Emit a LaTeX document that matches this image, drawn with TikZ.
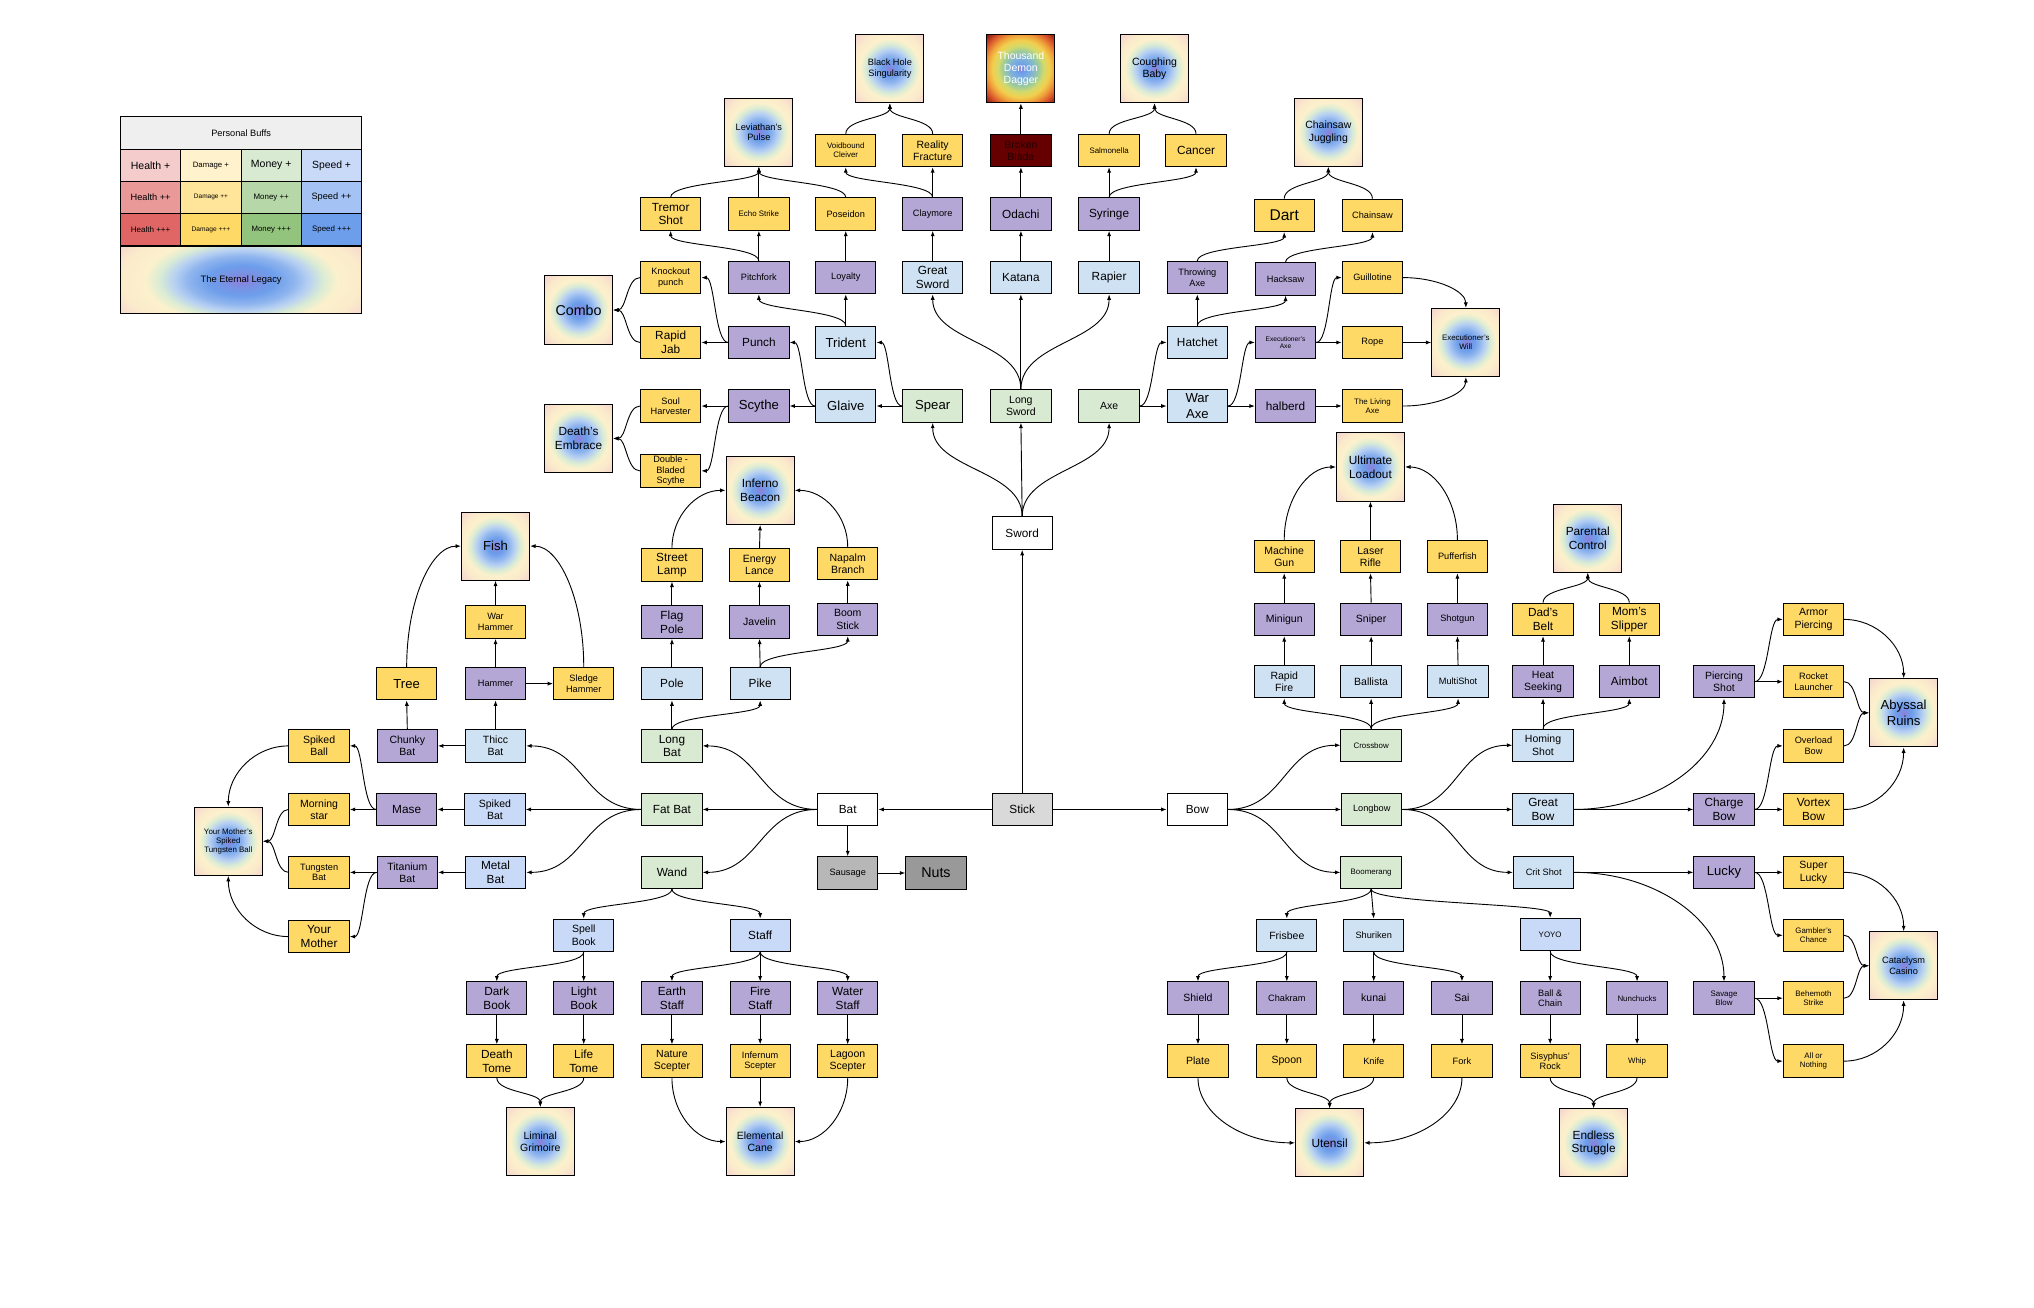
\documentclass[tikz,border=0pt]{standalone}
\usepackage{fontspec}
\setmainfont{Liberation Sans}
\usetikzlibrary{arrows.meta,calc}
\newdimen\ufs \ufs=1.4226pt
\newdimen\ubs \ubs=1.64pt
\newcommand\fz[1]{\fontsize{#1\ufs}{#1\ubs}\selectfont}
\definecolor{cy}{HTML}{FFD966}
\definecolor{cp}{HTML}{B4A7D6}
\definecolor{cb}{HTML}{CFE2F3}
\definecolor{cbb}{HTML}{C9DAF8}
\definecolor{cg}{HTML}{D9EAD3}
\definecolor{gra}{HTML}{D9D9D9}
\definecolor{grb}{HTML}{B7B7B7}
\definecolor{grc}{HTML}{999999}
\definecolor{dred}{HTML}{660000}
\definecolor{dtext}{HTML}{220000}
\definecolor{hA}{HTML}{F4CCCC}\definecolor{hB}{HTML}{EA9999}\definecolor{hC}{HTML}{E06666}
\definecolor{dA}{HTML}{FFF2CC}\definecolor{dB}{HTML}{FFE599}\definecolor{dC}{HTML}{FFD966}
\definecolor{mA}{HTML}{D9EAD3}\definecolor{mB}{HTML}{B6D7A8}\definecolor{mC}{HTML}{93C47D}
\definecolor{sA}{HTML}{C9DAF8}\definecolor{sB}{HTML}{A4C2F4}\definecolor{sC}{HTML}{6D9EEB}
\definecolor{hdr}{HTML}{EFEFEF}
\definecolor{sPur}{HTML}{8F7FD8}
\definecolor{sPB}{HTML}{7B8FE2}
\definecolor{sBlue}{HTML}{6D9EEB}
\definecolor{sBlue2}{HTML}{8FB5EE}
\definecolor{sLB}{HTML}{B8D1F2}
\definecolor{sGrn}{HTML}{DAECD4}
\definecolor{sYel}{HTML}{FCF1CC}
\definecolor{sYel2}{HTML}{FBEBCB}
\definecolor{sPink}{HTML}{F5D5CF}
\definecolor{tA}{HTML}{7FB3D8}
\definecolor{tB}{HTML}{9CCB9A}
\definecolor{tC}{HTML}{D4DA6A}
\definecolor{tD}{HTML}{F2CF4E}
\definecolor{tE}{HTML}{EF9F3A}
\definecolor{tF}{HTML}{D6522A}
\definecolor{tG}{HTML}{8A1A12}
\pgfdeclareradialshading{finsh}{\pgfpoint{0bp}{0bp}}{color(0bp)=(sPur);color(2.5bp)=(sPB);color(6bp)=(sBlue);color(10bp)=(sBlue2);color(14bp)=(sLB);color(18bp)=(sGrn);color(22bp)=(sYel);color(27bp)=(sYel2);color(35bp)=(sPink);color(50bp)=(sPink)}
\pgfdeclareradialshading{legsh}{\pgfpoint{0bp}{0bp}}{color(0bp)=(sPur);color(3bp)=(sPB);color(7bp)=(sBlue);color(11bp)=(sBlue2);color(14bp)=(sLB);color(17bp)=(sGrn);color(20bp)=(sYel);color(25bp)=(sYel2);color(30bp)=(sPink);color(50bp)=(sPink)}
\pgfdeclareradialshading{tddsh}{\pgfpoint{0bp}{0bp}}{color(0bp)=(sPur);color(3bp)=(sBlue);color(8bp)=(tA);color(13bp)=(tB);color(17bp)=(tC);color(21bp)=(tD);color(25bp)=(tE);color(30bp)=(tF);color(35bp)=(tG);color(50bp)=(tG)}
\tikzset{
 bx/.style={draw=black, line width=1.1pt, minimum width=2.325cm, minimum height=1.25cm, inner sep=0pt, align=center, text=black},
 yb/.style={bx, fill=cy},
 pb/.style={bx, fill=cp},
 bb/.style={bx, fill=cb},
 bbb/.style={bx, fill=cbb},
 gb/.style={bx, fill=cg},
 wb/.style={bx, fill=white},
 fin/.style={draw=black, line width=1.1pt, minimum width=2.625cm, minimum height=2.625cm, inner sep=0pt, align=center, shading=finsh},
 lg/.style={draw=black, line width=1.2pt, minimum width=2.325cm, minimum height=1.235cm, inner sep=0pt, align=center},
 f5/.style={font=\fz{5.1}}, f6/.style={font=\fz{6.1}}, f7/.style={font=\fz{7.1}},
 f8/.style={font=\fz{8.1}}, f9/.style={font=\fz{9.1}}, f10/.style={font=\fz{10.1}},
 f11/.style={font=\fz{11}}, f12/.style={font=\fz{12}},
 arw/.style={line width=1pt, -{Latex[length=6pt,width=4.5pt]}},
 vc/.style={to path={.. controls ($(\tikztostart)!0.5!(\tikztostart|-\tikztotarget)$) and ($(\tikztotarget)!0.5!(\tikztotarget|-\tikztostart)$) .. (\tikztotarget)}},
 hc/.style={to path={.. controls ($(\tikztostart)!0.5!(\tikztotarget|-\tikztostart)$) and ($(\tikztotarget)!0.5!(\tikztostart|-\tikztotarget)$) .. (\tikztotarget)}},
 cvh/.style={to path={.. controls ($(\tikztostart)!0.55!(\tikztostart|-\tikztotarget)$) and ($(\tikztotarget)!0.55!(\tikztostart|-\tikztotarget)$) .. (\tikztotarget)}},
 chv/.style={to path={.. controls ($(\tikztostart)!0.55!(\tikztotarget|-\tikztostart)$) and ($(\tikztotarget)!0.55!(\tikztotarget|-\tikztostart)$) .. (\tikztotarget)}},
}
\begin{document}
\begin{tikzpicture}[x=0.05cm, y=-0.05cm]
\fill[white] (0,0) rectangle (1568,1008);
\path[use as bounding box] (0,0) rectangle (1568,1008);
% ---------- legend
\node[lg, fill=hdr, minimum width=9.3cm, minimum height=1.27cm, font=\fz{7.1}] (lhead) at (185.9,102.4) {Personal Buffs};
\node[lg, fill=hA, font=\fz{8.1}] (lhA) at (116.1,127.45) {Health +};
\node[lg, fill=dA, font=\fz{6.0}] (ldA) at (162.6,127.45) {Damage +};
\node[lg, fill=mA, font=\fz{8.1}] (lmA) at (209.1,127.45) {Money +};
\node[lg, fill=sA, font=\fz{8.0}] (lsA) at (255.6,127.45) {Speed +};
\node[lg, fill=hB, font=\fz{7.1}] (lhB) at (116.1,152.15) {Health ++};
\node[lg, fill=dB, font=\fz{5.0}] (ldB) at (162.6,152.15) {Damage ++};
\node[lg, fill=mB, font=\fz{6.1}] (lmB) at (209.1,152.15) {Money ++};
\node[lg, fill=sB, font=\fz{7.1}] (lsB) at (255.6,152.15) {Speed ++};
\node[lg, fill=hC, font=\fz{6.2}] (lhC) at (116.1,177.2) {Health +++};
\node[lg, fill=dC, font=\fz{5.1}] (ldC) at (162.6,177.2) {Damage +++};
\node[lg, fill=mC, font=\fz{6.0}] (lmC) at (209.1,177.2) {Money +++};
\node[lg, fill=sC, font=\fz{6.1}] (lsC) at (255.6,177.2) {Speed +++};
\begin{scope}
\clip (92.9,189.95) rectangle (278.9,241.95);
\shade[shading=legsh] (92.9,173.95) rectangle (278.9,257.95);
\end{scope}
\node[lg, minimum width=9.3cm, minimum height=2.6cm, font=\fz{7.2}] (legacy) at (185.9,215.95) {The Eternal Legacy};
% ---------- top / sword region
\node[fin, f7] (lev) at (585,102) {Leviathan's\\Pulse};
\node[fin, f7] (bhs) at (686,53) {Black Hole\\Singularity};
\node[fin, shading=tddsh, text=white, f8] (tdd) at (787,53) {Thousand\\Demon\\Dagger};
\node[fin, f8] (cbaby) at (890,53) {Coughing\\Baby};
\node[fin, f8] (cjug) at (1024,102) {Chainsaw\\Juggling};
\node[yb, f6] (void) at (652,116) {Voidbound\\Cleiver};
\node[yb, f8] (real) at (719,116) {Reality\\Fracture};
\node[bx, fill=dred, text=dtext, f8] (broken) at (787,116) {Broken\\Blade};
\node[yb, f6] (salm) at (855,116) {Salmonella};
\node[yb, f9] (cancer) at (922,116) {Cancer};
\node[yb, f9] (tremor) at (517,165) {Tremor\\Shot};
\node[yb, f6] (echo) at (585,165) {Echo Strike};
\node[yb, f7] (pos) at (652,165) {Poseidon};
\node[pb, f7] (clay) at (719,165) {Claymore};
\node[pb, f9] (odachi) at (787,165) {Odachi};
\node[pb, f9] (syringe) at (855,165) {Syringe};
\node[yb, f12] (dart) at (990,166) {Dart};
\node[yb, f7] (chainsaw) at (1058,166) {Chainsaw};
\node[yb, f7] (knock) at (517,214) {Knockout\\punch};
\node[pb, f7] (pitch) at (585,214) {Pitchfork};
\node[pb, f7] (loyal) at (652,214) {Loyalty};
\node[bb, f9] (gsword) at (719,214) {Great\\Sword};
\node[bb, f9] (katana) at (787,214) {Katana};
\node[bb, f9] (rapier) at (855,214) {Rapier};
\node[pb, f7] (throw) at (923,214) {Throwing\\Axe};
\node[pb, f7] (hack) at (991,215) {Hacksaw};
\node[yb, f7] (guill) at (1058,214) {Guillotine};
\node[fin, f11] (combo) at (446,239) {Combo};
\node[yb, f9] (rjab) at (517,264) {Rapid\\Jab};
\node[pb, f9] (punch) at (585,264) {Punch};
\node[bb, f10] (trident) at (652,264) {Trident};
\node[bb, f9] (hatchet) at (923,264) {Hatchet};
\node[pb, f5] (exaxe) at (991,264) {Executioner's\\Axe};
\node[yb, f7] (rope) at (1058,264) {Rope};
\node[fin, f6] (exwill) at (1130,264) {Executioner's\\Will};
\node[yb, f7] (soul) at (517,313) {Soul\\Harvester};
\node[pb, f10] (scythe) at (585,313) {Scythe};
\node[bb, f10] (glaive) at (652,313) {Glaive};
\node[gb, f10] (spear) at (719,313) {Spear};
\node[gb, f8] (lsword) at (787,313) {Long\\Sword};
\node[gb, f8] (axe) at (855,313) {Axe};
\node[bb, f10] (waraxe) at (923,313) {War\\Axe};
\node[pb, f9] (halberd) at (991,313) {halberd};
\node[yb, f6] (livaxe) at (1058,313) {The Living\\Axe};
\node[fin, f9] (death) at (446,338) {Death's\\Embrace};
\node[yb, f7] (dbl) at (517,363) {Double -\\Bladed\\Scythe};
\node[wb, f9] (sword) at (788,411) {Sword};
% ---------- bat region
\node[fin, f9] (inferno) at (586,378) {Inferno\\Beacon};
\node[fin, f10] (fish) at (382,421) {Fish};
\node[yb, f9] (slamp) at (518,435.5) {Street\\Lamp};
\node[yb, f8] (elance) at (585.5,435.5) {Energy\\Lance};
\node[yb, f8] (napalm) at (653.5,434.5) {Napalm\\Branch};
\node[yb, f7] (warham) at (382,479.5) {War\\Hammer};
\node[pb, f9] (flag) at (518,479.5) {Flag\\Pole};
\node[pb, f8] (javelin) at (585.5,479.5) {Javelin};
\node[pb, f8] (boom) at (653.5,477.5) {Boom\\Stick};
\node[yb, f10] (tree) at (313.5,527) {Tree};
\node[pb, f7] (hammer) at (382,527) {Hammer};
\node[yb, f7] (sledge) at (450,527) {Sledge\\Hammer};
\node[bb, f9] (pole) at (518,527) {Pole};
\node[bb, f9] (pike) at (586,527) {Pike};
\node[yb, f8] (sball) at (246,575) {Spiked\\Ball};
\node[pb, f8] (chunky) at (314,575) {Chunky\\Bat};
\node[bb, f8] (thicc) at (382,575) {Thicc\\Bat};
\node[gb, f9] (longbat) at (518,575) {Long\\Bat};
\node[yb, f8] (mstar) at (246,624) {Morning\\star};
\node[pb, f9] (mase) at (313.5,624) {Mase};
\node[bbb, f8] (sbat) at (381.5,624) {Spiked\\Bat};
\node[gb, f9] (fatbat) at (518,624) {Fat Bat};
\node[wb, f9] (bat) at (653.5,624) {Bat};
\node[bx, fill=gra, f9] (stick) at (788,624) {Stick};
\node[fin, f6] (ymstb) at (176,648.5) {Your Mother's\\Spiked\\Tungsten Ball};
\node[yb, f7] (tbat) at (246,672.5) {Tungsten\\Bat};
\node[pb, f8] (titan) at (314,672.5) {Titanium\\Bat};
\node[bbb, f9] (metal) at (382,672.5) {Metal\\Bat};
\node[gb, f9] (wand) at (518,672.5) {Wand};
\node[bx, fill=grb, f7] (sausage) at (653.5,673) {Sausage};
\node[bx, fill=grc, f11] (nuts) at (721.5,673) {Nuts};
\node[yb, f9] (ymother) at (246,722) {Your\\Mother};
\node[bbb, f8] (spell) at (450,721) {Spell\\Book};
\node[bbb, f9] (staff) at (586,721) {Staff};
\node[pb, f9] (dark) at (383,769.5) {Dark\\Book};
\node[pb, f9] (light) at (450,769.5) {Light\\Book};
\node[pb, f9] (earth) at (518,769.5) {Earth\\Staff};
\node[pb, f9] (fire) at (586,769.5) {Fire\\Staff};
\node[pb, f9] (water) at (653.5,769.5) {Water\\Staff};
\node[yb, f9] (dtome) at (383,818) {Death\\Tome};
\node[yb, f9] (ltome) at (450,818) {Life\\Tome};
\node[yb, f8] (nature) at (518,818) {Nature\\Scepter};
\node[yb, f7] (infern) at (586,818) {Infernum\\Scepter};
\node[yb, f8] (lagoon) at (653.5,818) {Lagoon\\Scepter};
\node[fin, f8] (liminal) at (416.5,880) {Liminal\\Grimoire};
\node[fin, f8] (ecane) at (586,880) {Elemental\\Cane};
% ---------- bow region
\node[fin, f9] (ultimate) at (1056.5,360) {Ultimate\\Loadout};
\node[fin, f9] (pcontrol) at (1224,415) {Parental\\Control};
\node[yb, f8] (mgun) at (990,429) {Machine\\Gun};
\node[yb, f8] (laser) at (1056.5,429) {Laser\\Rifle};
\node[yb, f7] (puffer) at (1123.5,429) {Pufferfish};
\node[pb, f8] (minigun) at (990,477.5) {Minigun};
\node[pb, f8] (sniper) at (1057,477.5) {Sniper};
\node[pb, f7] (shotgun) at (1123.5,477.5) {Shotgun};
\node[yb, f9] (dads) at (1189.5,477.5) {Dad's\\Belt};
\node[yb, f9] (moms) at (1256,477.5) {Mom's\\Slipper};
\node[yb, f8] (armor) at (1398,477.5) {Armor\\Piercing};
\node[bb, f8] (rfire) at (990,525.5) {Rapid\\Fire};
\node[bb, f8] (ballista) at (1057,525.5) {Ballista};
\node[bb, f7] (multi) at (1124,525.5) {MultiShot};
\node[pb, f8] (heat) at (1189.5,525.5) {Heat\\Seeking};
\node[pb, f9] (aimbot) at (1256,525.5) {Aimbot};
\node[pb, f8] (pierce) at (1329,525.5) {Piercing\\Shot};
\node[yb, f7] (rocket) at (1398,525.5) {Rocket\\Launcher};
\node[fin, f10] (abyss) at (1467.5,549.5) {Abyssal\\Ruins};
\node[gb, f6] (crossbow) at (1057,574.5) {Crossbow};
\node[bb, f8] (homing) at (1189.5,574.5) {Homing\\Shot};
\node[yb, f7] (overload) at (1398,575) {Overload\\Bow};
\node[wb, f9] (bow) at (923,624) {Bow};
\node[gb, f7] (longbow) at (1057.5,624) {Longbow};
\node[bb, f9] (gbow) at (1189.5,624) {Great\\Bow};
\node[pb, f9] (charge) at (1329,624) {Charge\\Bow};
\node[yb, f9] (vortex) at (1398,624) {Vortex\\Bow};
\node[gb, f6] (boomer) at (1057,672.5) {Boomerang};
\node[bb, f7] (crit) at (1190,672.5) {Crit Shot};
\node[pb, f10] (lucky) at (1329,672.5) {Lucky};
\node[yb, f8] (slucky) at (1398,672.5) {Super\\Lucky};
\node[bb, f8] (frisbee) at (992,721) {Frisbee};
\node[bb, f7] (shuriken) at (1059,721) {Shuriken};
\node[bbb, f6] (yoyo) at (1195,720.5) {YOYO};
\node[yb, f6] (gambler) at (1398,721) {Gambler's\\Chance};
\node[fin, f7] (casino) at (1467.5,744.5) {Cataclysm\\Casino};
\node[pb, f8] (shield) at (923.5,769.5) {Shield};
\node[pb, f7] (chakram) at (992,769.5) {Chakram};
\node[pb, f8] (kunai) at (1059,769.5) {kunai};
\node[pb, f8] (sai) at (1127,769.5) {Sai};
\node[pb, f7] (ballc) at (1195,769.5) {Ball \&\\Chain};
\node[pb, f6] (nunch) at (1262,769.5) {Nunchucks};
\node[pb, f6] (savage) at (1329,769.5) {Savage\\Blow};
\node[yb, f6] (behem) at (1398,769.5) {Behemoth\\Strike};
\node[yb, f8] (plate) at (923.5,818) {Plate};
\node[yb, f8] (spoon) at (992,818) {Spoon};
\node[yb, f7] (knife) at (1059,818) {Knife};
\node[yb, f7] (fork) at (1127,818) {Fork};
\node[yb, f7] (sisy) at (1195,818) {Sisyphus'\\Rock};
\node[yb, f6] (whip) at (1262,818) {Whip};
\node[yb, f6] (allnot) at (1398,818) {All or\\Nothing};
\node[fin, f9] (utensil) at (1025,881) {Utensil};
\node[fin, f9] (endless) at (1228.5,881) {Endless\\Struggle};
% ---------- connectors: center
\draw[arw] (stick.north) -- (sword.south);
\draw[arw] (stick.west) -- (bat.east);
\draw[arw] (stick.east) -- (bow.west);
\draw[arw] (bat.south) -- (sausage.north);
\draw[arw] (sausage.east) -- (nuts.west);
% sword
\draw[arw] (sword.north) to[vc] (spear.south);
\draw[arw] (sword.north) -- (lsword.south);
\draw[arw] (sword.north) to[vc] (axe.south);
\draw[arw] (spear.west) -- (glaive.east);
\draw[arw] (spear.west) to[hc] (trident.east);
\draw[arw] (glaive.west) -- (scythe.east);
\draw[arw] (glaive.west) to[hc] (punch.east);
\draw[arw] (trident.north) -- (loyal.south);
\draw[arw] (trident.north) to[vc] (pitch.south);
\draw[arw] (loyal.north) -- (pos.south);
\draw[arw] (pitch.north) -- (echo.south);
\draw[arw] (pitch.north) to[vc] (tremor.south);
\draw[arw] (tremor.north) to[vc] (lev.south);
\draw[arw] (echo.north) -- (lev.south);
\draw[arw] (pos.north) to[vc] (lev.south);
\draw[arw] (punch.west) -- (rjab.east);
\draw[arw] (punch.west) to[hc] (knock.east);
\draw[arw] (knock.west) to[hc] (combo.east);
\draw[arw] (rjab.west) to[hc] (combo.east);
\draw[arw] (scythe.west) -- (soul.east);
\draw[arw] (scythe.west) to[hc] (dbl.east);
\draw[arw] (soul.west) to[hc] (death.east);
\draw[arw] (dbl.west) to[hc] (death.east);
\draw[arw] (lsword.north) to[vc] (gsword.south);
\draw[arw] (lsword.north) -- (katana.south);
\draw[arw] (lsword.north) to[vc] (rapier.south);
\draw[arw] (gsword.north) -- (clay.south);
\draw[arw] (clay.north) -- (real.south);
\draw[arw] (clay.north) to[vc] (void.south);
\draw[arw] (void.north) to[vc] (bhs.south);
\draw[arw] (real.north) to[vc] (bhs.south);
\draw[arw] (katana.north) -- (odachi.south);
\draw[arw] (odachi.north) -- (broken.south);
\draw[arw] (broken.north) -- (tdd.south);
\draw[arw] (rapier.north) -- (syringe.south);
\draw[arw] (syringe.north) -- (salm.south);
\draw[arw] (syringe.north) to[vc] (cancer.south);
\draw[arw] (salm.north) to[vc] (cbaby.south);
\draw[arw] (cancer.north) to[vc] (cbaby.south);
\draw[arw] (axe.east) -- (waraxe.west);
\draw[arw] (axe.east) to[hc] (hatchet.west);
\draw[arw] (hatchet.north) -- (throw.south);
\draw[arw] (hatchet.north) to[vc] (hack.south);
\draw[arw] (throw.north) to[vc] (dart.south);
\draw[arw] (hack.north) to[vc] (chainsaw.south);
\draw[arw] (dart.north) to[vc] (cjug.south);
\draw[arw] (chainsaw.north) to[vc] (cjug.south);
\draw[arw] (waraxe.east) -- (halberd.west);
\draw[arw] (waraxe.east) to[hc] (exaxe.west);
\draw[arw] (exaxe.east) -- (rope.west);
\draw[arw] (exaxe.east) to[hc] (guill.west);
\draw[arw] (halberd.east) -- (livaxe.west);
\draw[arw] (guill.east) to[chv] (exwill.north);
\draw[arw] (rope.east) -- (exwill.west);
\draw[arw] (livaxe.east) to[chv] (exwill.south);
% bat
\draw[arw] (bat.west) -- (fatbat.east);
\draw[arw] (bat.west) to[hc] (longbat.east);
\draw[arw] (bat.west) to[hc] (wand.east);
\draw[arw] (longbat.north) -- (pole.south);
\draw[arw] (longbat.north) to[vc] (pike.south);
\draw[arw] (pole.north) -- (flag.south);
\draw[arw] (flag.north) -- (slamp.south);
\draw[arw] (pike.north) -- (javelin.south);
\draw[arw] (pike.north) to[vc] (boom.south);
\draw[arw] (javelin.north) -- (elance.south);
\draw[arw] (boom.north) -- (napalm.south);
\draw[arw] (slamp.north) to[cvh] (inferno.west);
\draw[arw] (elance.north) -- (inferno.south);
\draw[arw] (napalm.north) to[cvh] (inferno.east);
\draw[arw] (fatbat.west) -- (sbat.east);
\draw[arw] (fatbat.west) to[hc] (thicc.east);
\draw[arw] (fatbat.west) to[hc] (metal.east);
\draw[arw] (thicc.west) -- (chunky.east);
\draw[arw] (thicc.north) -- (hammer.south);
\draw[arw] (hammer.north) -- (warham.south);
\draw[arw] (hammer.east) -- (sledge.west);
\draw[arw] (warham.north) -- (fish.south);
\draw[arw] (chunky.north) -- (tree.south);
\draw[arw] (tree.north) to[cvh] (fish.west);
\draw[arw] (sledge.north) to[cvh] (fish.east);
\draw[arw] (sbat.west) -- (mase.east);
\draw[arw] (mase.west) -- (mstar.east);
\draw[arw] (mase.west) to[hc] (sball.east);
\draw[arw] (metal.west) -- (titan.east);
\draw[arw] (titan.west) -- (tbat.east);
\draw[arw] (titan.west) to[hc] (ymother.east);
\draw[arw] (sball.west) to[chv] (ymstb.north);
\draw[arw] (mstar.west) to[hc] (ymstb.east);
\draw[arw] (tbat.west) to[hc] (ymstb.east);
\draw[arw] (ymother.west) to[chv] (ymstb.south);
\draw[arw] (wand.south) to[vc] (spell.north);
\draw[arw] (wand.south) to[vc] (staff.north);
\draw[arw] (spell.south) to[vc] (dark.north);
\draw[arw] (spell.south) -- (light.north);
\draw[arw] (dark.south) -- (dtome.north);
\draw[arw] (light.south) -- (ltome.north);
\draw[arw] (dtome.south) to[vc] (liminal.north);
\draw[arw] (ltome.south) to[vc] (liminal.north);
\draw[arw] (staff.south) to[vc] (earth.north);
\draw[arw] (staff.south) -- (fire.north);
\draw[arw] (staff.south) to[vc] (water.north);
\draw[arw] (earth.south) -- (nature.north);
\draw[arw] (fire.south) -- (infern.north);
\draw[arw] (water.south) -- (lagoon.north);
\draw[arw] (nature.south) to[cvh] (ecane.west);
\draw[arw] (infern.south) -- (ecane.north);
\draw[arw] (lagoon.south) to[cvh] (ecane.east);
% bow
\draw[arw] (bow.east) -- (longbow.west);
\draw[arw] (bow.east) to[hc] (crossbow.west);
\draw[arw] (bow.east) to[hc] (boomer.west);
\draw[arw] (crossbow.north) to[vc] (rfire.south);
\draw[arw] (crossbow.north) -- (ballista.south);
\draw[arw] (crossbow.north) to[vc] (multi.south);
\draw[arw] (rfire.north) -- (minigun.south);
\draw[arw] (minigun.north) -- (mgun.south);
\draw[arw] (ballista.north) -- (sniper.south);
\draw[arw] (sniper.north) -- (laser.south);
\draw[arw] (multi.north) -- (shotgun.south);
\draw[arw] (shotgun.north) -- (puffer.south);
\draw[arw] (mgun.north) to[cvh] (ultimate.west);
\draw[arw] (laser.north) -- (ultimate.south);
\draw[arw] (puffer.north) to[cvh] (ultimate.east);
\draw[arw] (longbow.east) -- (gbow.west);
\draw[arw] (longbow.east) to[hc] (homing.west);
\draw[arw] (longbow.east) to[hc] (crit.west);
\draw[arw] (homing.north) -- (heat.south);
\draw[arw] (homing.north) to[vc] (aimbot.south);
\draw[arw] (heat.north) -- (dads.south);
\draw[arw] (aimbot.north) -- (moms.south);
\draw[arw] (dads.north) to[vc] (pcontrol.south);
\draw[arw] (moms.north) to[vc] (pcontrol.south);
\draw[arw] (gbow.east) -- (charge.west);
\draw[arw] (gbow.east) to[chv] (pierce.south);
\draw[arw] (pierce.east) -- (rocket.west);
\draw[arw] (pierce.east) to[hc] (armor.west);
\draw[arw] (charge.east) -- (vortex.west);
\draw[arw] (charge.east) to[hc] (overload.west);
\draw[arw] (armor.east) to[chv] (abyss.north);
\draw[arw] (rocket.east) to[hc] (abyss.west);
\draw[arw] (overload.east) to[hc] (abyss.west);
\draw[arw] (vortex.east) to[chv] (abyss.south);
\draw[arw] (crit.east) -- (lucky.west);
\draw[arw] (crit.east) to[chv] (savage.north);
\draw[arw] (lucky.east) -- (slucky.west);
\draw[arw] (lucky.east) to[hc] (gambler.west);
\draw[arw] (savage.east) -- (behem.west);
\draw[arw] (savage.east) to[hc] (allnot.west);
\draw[arw] (slucky.east) to[chv] (casino.north);
\draw[arw] (gambler.east) to[hc] (casino.west);
\draw[arw] (behem.east) to[hc] (casino.west);
\draw[arw] (allnot.east) to[chv] (casino.south);
\draw[arw] (boomer.south) to[vc] (frisbee.north);
\draw[arw] (boomer.south) -- (shuriken.north);
\draw[arw] (boomer.south) to[vc] (yoyo.north);
\draw[arw] (frisbee.south) to[vc] (shield.north);
\draw[arw] (frisbee.south) -- (chakram.north);
\draw[arw] (shuriken.south) -- (kunai.north);
\draw[arw] (shuriken.south) to[vc] (sai.north);
\draw[arw] (yoyo.south) -- (ballc.north);
\draw[arw] (yoyo.south) to[vc] (nunch.north);
\draw[arw] (shield.south) -- (plate.north);
\draw[arw] (chakram.south) -- (spoon.north);
\draw[arw] (kunai.south) -- (knife.north);
\draw[arw] (sai.south) -- (fork.north);
\draw[arw] (ballc.south) -- (sisy.north);
\draw[arw] (nunch.south) -- (whip.north);
\draw[arw] (plate.south) to[cvh] (utensil.west);
\draw[arw] (spoon.south) to[vc] (utensil.north);
\draw[arw] (knife.south) to[vc] (utensil.north);
\draw[arw] (fork.south) to[cvh] (utensil.east);
\draw[arw] (sisy.south) to[vc] (endless.north);
\draw[arw] (whip.south) to[vc] (endless.north);
\end{tikzpicture}
\end{document}
